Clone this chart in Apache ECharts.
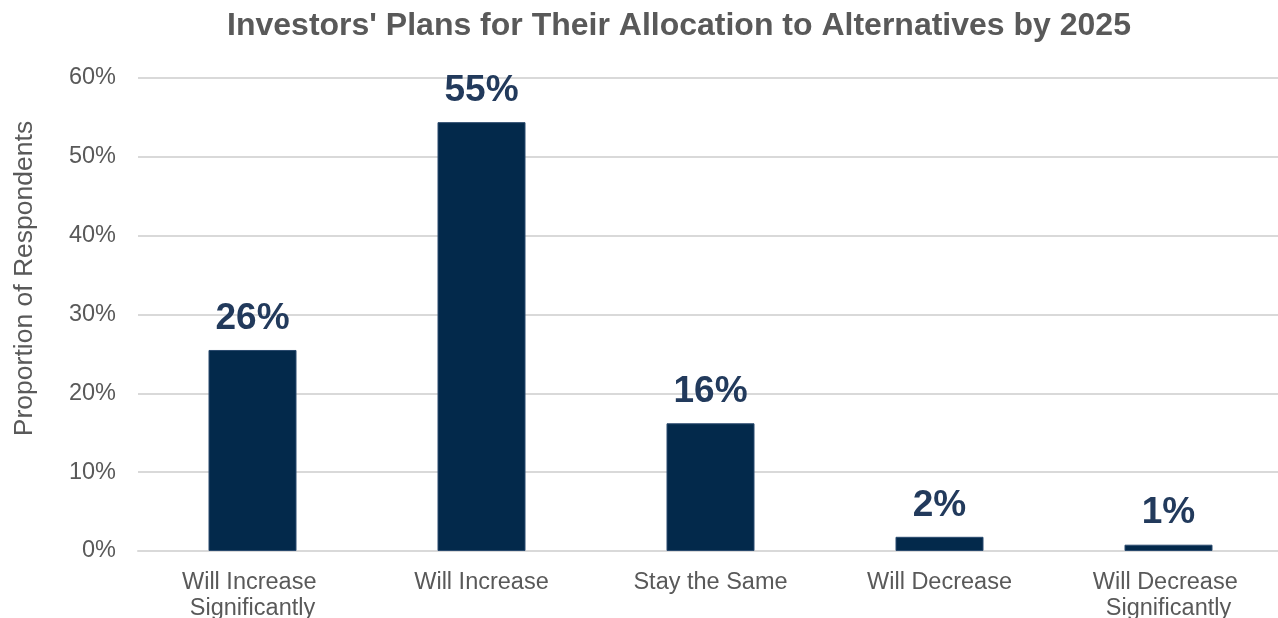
<!DOCTYPE html>
<html>
<head>
<meta charset="utf-8">
<script src="https://cdn.jsdelivr.net/npm/echarts@6/dist/echarts.min.js"></script>
<style>
  html, body { margin: 0; padding: 0; background: #ffffff; }
  #chart { width: 1278px; height: 618px; }
</style>
</head>
<body>
<div id="chart"></div>
<script>
// 数据
const categories = ["Will Increase Significantly", "Will Increase", "Stay the Same", "Will Decrease", "Will Decrease Significantly"];
const values = [25.5, 54.4, 16.2, 1.8, 0.8];
const valueLabels = ["26%", "55%", "16%", "2%", "1%"];
const yTicks = [0, 10, 20, 30, 40, 50, 60];

const chart = echarts.init(document.getElementById("chart"));
chart.setOption({
  animation: false,
  textStyle: { fontFamily: "Liberation Sans, Arial, sans-serif" },
  title: {
    text: "Investors' Plans for Their Allocation to Alternatives by 2025",
    left: 674,
    top: 5,
    textAlign: "center",
    textStyle: { fontSize: 32, fontWeight: "bold", color: "#595959" }
  },
  grid: { left: 138, right: -5, top: 78, bottom: 67, outerBoundsMode: "none", containLabel: false },
  xAxis: {
    type: "category",
    data: categories,
    axisLine: { lineStyle: { color: "#d9d9d9", width: 2 } },
    axisTick: { show: false },
    axisLabel: {
      interval: 0,
      margin: 19,
      fontSize: 23.5,
      lineHeight: 26,
      color: "#595959",
      width: 200,
      overflow: "break"
    }
  },
  yAxis: {
    type: "value",
    min: yTicks[0],
    max: yTicks[yTicks.length - 1],
    interval: 10,
    name: "Proportion of Respondents",
    nameLocation: "middle",
    nameGap: 100,
    nameTextStyle: { fontSize: 26.5, color: "#595959", padding: [0, 0, 0, 72] },
    axisLabel: { formatter: "{value}%", fontSize: 23.5, color: "#595959", margin: 22 },
    splitLine: { lineStyle: { color: "#d9d9d9", width: 2 } },
    axisLine: { show: false },
    axisTick: { show: false }
  },
  series: [{
    type: "bar",
    data: values,
    barWidth: 88,
    itemStyle: { color: "#03294b", borderColor: "#2a4a6e", borderWidth: 1 },
    label: {
      show: true,
      position: "top",
      distance: 13,
      fontSize: 37,
      fontWeight: "bold",
      color: "#223a5c",
      formatter: p => valueLabels[p.dataIndex]
    }
  }]
});
</script>
</body>
</html>
